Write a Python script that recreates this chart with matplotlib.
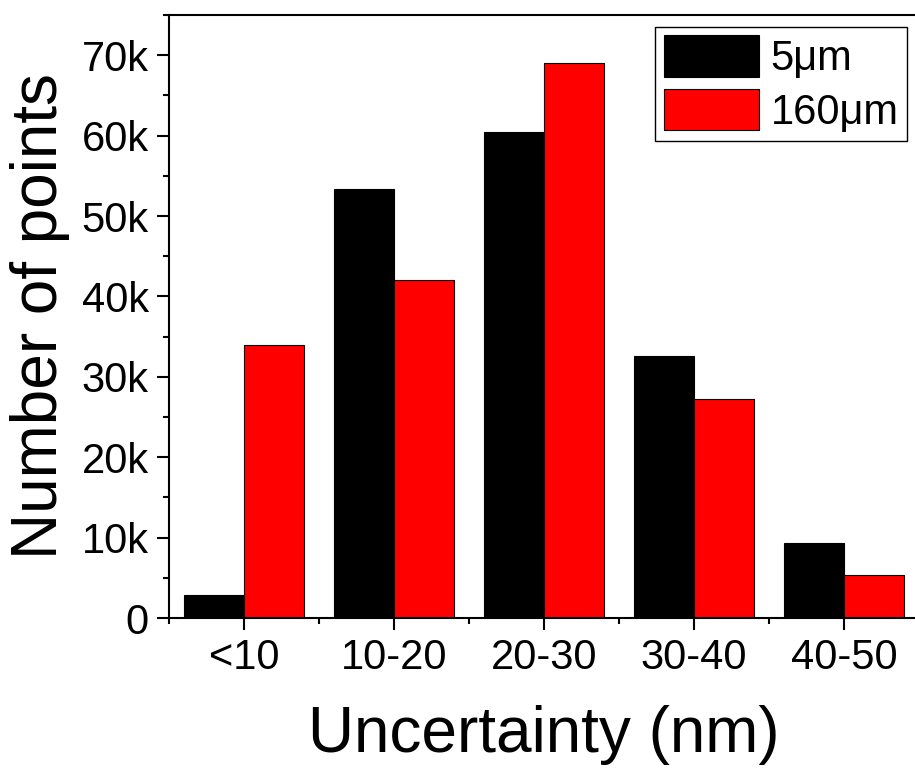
import matplotlib
matplotlib.use("Agg")
import matplotlib.pyplot as plt
import numpy as np
from matplotlib.ticker import MultipleLocator, FuncFormatter

plt.rcParams['font.family'] = ['Liberation Sans', 'DejaVu Sans']

categories = ["<10", "10-20", "20-30", "30-40", "40-50"]
series_names = ["5\u03bcm", "160\u03bcm"]
values_5um = [2.9, 53.3, 60.5, 32.6, 9.3]      # thousands
values_160um = [34.0, 42.0, 69.0, 27.2, 5.3]   # thousands
colors = ["#000000", "#FF0000"]

fig = plt.figure(figsize=(9.15, 7.71), dpi=100)
ax = fig.add_axes([169/915, 1 - 618/771, 750/915, (618 - 15)/771])

x = np.arange(len(categories))
w = 0.4
ax.bar(x - w/2, values_5um, width=w, color=colors[0], edgecolor="black", linewidth=0.8, label=series_names[0])
ax.bar(x + w/2, values_160um, width=w, color=colors[1], edgecolor="black", linewidth=0.8, label=series_names[1])

ax.set_xlim(-0.5, len(categories) - 0.5)
ax.set_ylim(0, 75)
ax.set_xticks(x)
ax.set_xticklabels(categories)
ax.xaxis.set_minor_locator(MultipleLocator(1.0, offset=0.5))
ax.yaxis.set_major_locator(MultipleLocator(10))
ax.yaxis.set_minor_locator(MultipleLocator(5))
ax.yaxis.set_major_formatter(FuncFormatter(lambda v, p: "0" if v == 0 else f"{int(v)}k"))

ax.tick_params(axis='both', which='major', direction='out', length=8.6, width=1.5, labelsize=30, pad=6)
ax.tick_params(axis='both', which='minor', direction='out', length=4.3, width=1.5)
ax.tick_params(top=False, right=False, which='both')
for s in ax.spines.values():
    s.set_linewidth(1.5)

ax.set_xlabel("Uncertainty (nm)", fontsize=46, labelpad=19)
ax.set_ylabel("Number of points", fontsize=46, labelpad=8)

leg = fig.legend(loc='upper right', bbox_to_anchor=(907/915, 1 - 27/771), borderaxespad=0,
                 fontsize=30, frameon=True, fancybox=False, edgecolor='black', framealpha=1,
                 handlelength=2.28, handleheight=1.15, labelspacing=0.24, handletextpad=0.29,
                 borderpad=0.2)
leg.get_frame().set_linewidth(1.0)

fig.savefig("out.png", dpi=100)
